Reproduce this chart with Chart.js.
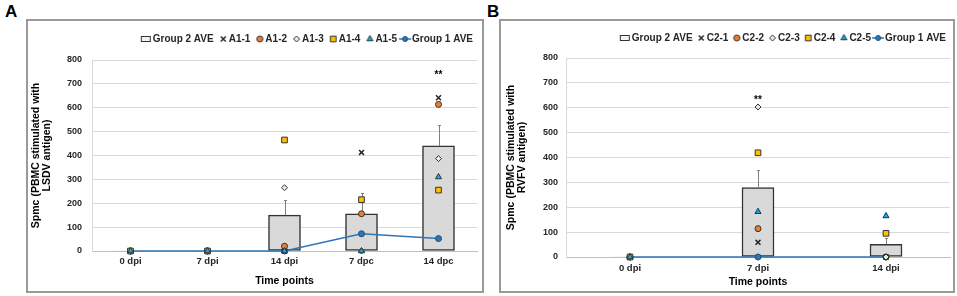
<!DOCTYPE html>
<html><head><meta charset="utf-8">
<script src="https://cdn.jsdelivr.net/npm/chart.js@4/dist/chart.umd.min.js"></script>
<style>
html,body{margin:0;padding:0;background:#fff;}
body{width:957px;height:296px;position:relative;overflow:hidden;font-family:"Liberation Sans",Arial,sans-serif;}
.frame{position:absolute;border:2px solid #9a9a9a;box-sizing:border-box;}
.lbl{position:absolute;font-weight:bold;font-size:17px;line-height:17px;color:#000;}
canvas{position:absolute;}
</style></head><body>
<div class="frame" style="left:26px;top:19px;width:458px;height:274px"></div>
<div class="frame" style="left:499px;top:19px;width:456px;height:274px"></div>
<div class="lbl" style="left:5px;top:3px">A</div>
<div class="lbl" style="left:487px;top:3px">B</div>
<canvas id="cA" width="454" height="270" style="left:28px;top:21px"></canvas>
<canvas id="cB" width="454" height="270" style="left:501px;top:21px"></canvas>
<script>
// ---------- DATA ----------
const yTickValues = [0, 100, 200, 300, 400, 500, 600, 700, 800];

const categoriesA = ['0 dpi', '7 dpi', '14 dpi', '7 dpc', '14 dpc'];
const group2AveA = [0, 0, 150, 156, 440];
const group2ErrA = [0, 0, 65, 88, 89];
const a1_1 = [0, 0, 0, 413, 642];
const a1_2 = [0, 0, 20, 156, 614];
const a1_3 = [0, 0, 265, 0, 387];
const a1_4 = [0, 0, 465, 215, 255];
const a1_5 = [0, 0, 0, 0, 310];
const group1AveA = [0, 0, 0, 72, 52];
const sigTextA = ['', '', '', '', '**'];
const sigValueA = [null, null, null, null, 748];
const memberLabelsA = ['A1-1', 'A1-2', 'A1-3', 'A1-4', 'A1-5'];
const yTitleA = ['Spmc (PBMC stimulated with', 'LSDV antigen)'];

const categoriesB = ['0 dpi', '7 dpi', '14 dpi'];
const group2AveB = [0, 279, 51];
const group2ErrB = [0, 71, 27];
const c2_1 = [0, 59, 0];
const c2_2 = [0, 114, 0];
const c2_3 = [0, 603, 0];
const c2_4 = [0, 419, 95];
const c2_5 = [0, 182, 165];
const group1AveB = [0, 0, 0];
const sigTextB = ['', '**', ''];
const sigValueB = [null, 643, null];
const memberLabelsB = ['C2-1', 'C2-2', 'C2-3', 'C2-4', 'C2-5'];
const yTitleB = ['Spmc (PBMC stimulated with', 'RVFV antigen)'];

// ---------- STYLE ----------
const FONT = '"Liberation Sans", Arial, Helvetica, sans-serif';
Chart.defaults.font.family = FONT;
const memberStyles = [
  {pointStyle: 'crossRot', radius: 3.5, bg: '#262626', border: '#262626', bw: 1.5},
  {pointStyle: 'circle', radius: 3, bg: '#ed7d31', border: '#333333', bw: 1},
  {pointStyle: 'rectRot', radius: 3, bg: '#e2f0d9', border: '#333333', bw: 1},
  {pointStyle: 'rect', radius: 4, bg: '#ffc000', border: '#333333', bw: 1},
  {pointStyle: 'triangle', radius: 3.5, bg: '#00b0f0', border: '#333333', bw: 1}
];

function drawMarker(ctx, st, x, y) {
  ctx.fillStyle = st.bg; ctx.strokeStyle = st.border; ctx.lineWidth = st.bw;
  ctx.beginPath();
  const r = st.radius;
  if (st.pointStyle === 'crossRot') {
    const s = r * Math.SQRT1_2;
    ctx.moveTo(x - s, y - s); ctx.lineTo(x + s, y + s);
    ctx.moveTo(x - s, y + s); ctx.lineTo(x + s, y - s);
    ctx.stroke(); return;
  } else if (st.pointStyle === 'circle') {
    ctx.arc(x, y, r, 0, Math.PI * 2);
  } else if (st.pointStyle === 'rectRot') {
    ctx.moveTo(x, y - r); ctx.lineTo(x + r, y); ctx.lineTo(x, y + r); ctx.lineTo(x - r, y); ctx.closePath();
  } else if (st.pointStyle === 'rect') {
    const s = r * Math.SQRT1_2; ctx.rect(x - s, y - s, 2 * s, 2 * s);
  } else if (st.pointStyle === 'triangle') {
    ctx.moveTo(x, y - r); ctx.lineTo(x + r * 0.866, y + r * 0.5); ctx.lineTo(x - r * 0.866, y + r * 0.5); ctx.closePath();
  }
  ctx.fill(); ctx.stroke();
}
function iconCanvas(w, h, fn) {
  const c = document.createElement('canvas'); c.width = w; c.height = h;
  fn(c.getContext('2d')); return c;
}
const boxIcon = iconCanvas(12, 8, ctx => {
  ctx.fillStyle = '#f2f2f2'; ctx.fillRect(1.5, 1.5, 9, 5);
  ctx.strokeStyle = '#333'; ctx.lineWidth = 1; ctx.strokeRect(1.5, 1.5, 9, 5);
});
const markerIcons = memberStyles.map(st => iconCanvas(12, 8, ctx => drawMarker(ctx, st, 7.5, 4)));
const lineIcon = iconCanvas(16, 8, ctx => {
  ctx.strokeStyle = '#2e75b6'; ctx.lineWidth = 1.5;
  ctx.beginPath(); ctx.moveTo(2, 4); ctx.lineTo(14, 4); ctx.stroke();
  drawMarker(ctx, {pointStyle: 'circle', radius: 2.5, bg: '#2e75b6', border: '#1f4e79', bw: 1}, 8, 4);
});

const errPlugin = {
  id: 'errbars',
  afterDatasetDraw(chart, args, opts) {
    if (args.index !== 0) return;
    const ys = chart.scales.y, ctx = chart.ctx;
    ctx.save();
    ctx.strokeStyle = '#7f7f7f'; ctx.lineWidth = 1;
    args.meta.data.forEach((el, i) => {
      const v = chart.data.datasets[0].data[i], e = opts.values[i];
      if (!e) return;
      const x = Math.round(el.x) + 0.5;
      const y0 = ys.getPixelForValue(v), y1 = Math.round(ys.getPixelForValue(v + e)) + 0.5;
      ctx.beginPath(); ctx.moveTo(x, y0); ctx.lineTo(x, y1);
      ctx.moveTo(x - 1.5, y1); ctx.lineTo(x + 1.5, y1); ctx.stroke();
    });
    ctx.restore();
  }
};
const sigPlugin = {
  id: 'sig',
  afterDatasetsDraw(chart, args, opts) {
    const ctx = chart.ctx, xs = chart.scales.x, ys = chart.scales.y;
    ctx.save();
    ctx.fillStyle = '#000'; ctx.font = 'bold 10px ' + FONT;
    ctx.textAlign = 'center'; ctx.textBaseline = 'alphabetic';
    opts.texts.forEach((t, i) => {
      if (!t || opts.values[i] == null) return;
      ctx.fillText(t, xs.getPixelForValue(i), ys.getPixelForValue(opts.values[i]) + 5.5);
    });
    ctx.restore();
  }
};

function buildChart(id, p) {
  const datasets = [];
  const icons = [];
  datasets.push({type: 'bar', label: 'Group 2 AVE', data: p.ave, backgroundColor: '#d9d9d9', borderColor: '#333333',
    borderWidth: c => (c.raw ? 1.5 : 0), borderSkipped: false, barThickness: 32, order: 10});
  icons.push(boxIcon);
  p.members.forEach((m, i) => {
    const st = memberStyles[i];
    datasets.push({type: 'line', label: p.memberLabels[i], data: m, showLine: false, pointStyle: st.pointStyle,
      pointRadius: st.radius, pointHoverRadius: st.radius, pointBackgroundColor: st.bg, pointBorderColor: st.border,
      pointBorderWidth: st.bw, clip: false, order: 5 - i});
    icons.push(markerIcons[i]);
  });
  datasets.push({type: 'line', label: 'Group 1 AVE', data: p.group1, borderColor: '#2e75b6', borderWidth: 1.5,
    pointStyle: 'circle', pointRadius: 3, pointBackgroundColor: '#2e75b6', pointBorderColor: '#1f4e79',
    pointBorderWidth: 1, clip: false, order: 8, tension: 0});
  icons.push(lineIcon);

  return new Chart(document.getElementById(id), {
    type: 'bar',
    data: {labels: p.categories, datasets},
    plugins: [errPlugin, sigPlugin],
    options: {
      responsive: false, animation: false, devicePixelRatio: 1, events: [],
      layout: {padding: {top: p.padTop, right: p.padRight, left: 0, bottom: 0}},
      plugins: {
        tooltip: {enabled: false},
        errbars: {values: p.err},
        sig: {texts: p.sigText, values: p.sigValue},
        title: {display: true, text: '', weight: 500, font: {size: 1, lineHeight: 1}, padding: {top: 0, bottom: p.spacer}},
        legend: {
          position: 'top', align: 'end',
          labels: {
            usePointStyle: true, boxWidth: 4, padding: p.legendPad, color: '#262626',
            font: {family: FONT, size: 10, weight: 'bold'},
            generateLabels: chart => chart.data.datasets.map((ds, i) => ({
              text: ds.label, pointStyle: icons[i], fillStyle: '#000', strokeStyle: '#000', lineWidth: 0,
              hidden: false, datasetIndex: i, fontColor: '#262626'
            }))
          }
        }
      },
      scales: {
        x: {
          grid: {display: false, drawTicks: false},
          border: {display: true, color: '#bfbfbf', width: 1},
          ticks: {font: {family: FONT, size: 9.5, weight: 'bold'}, color: '#262626', padding: p.xTickPad, maxRotation: 0, autoSkip: false},
          title: {display: true, text: 'Time points', color: '#000', font: {family: FONT, size: 10.5, weight: 'bold'}, padding: {top: 0, bottom: p.xTitlePad}},
          afterFit: s => { s.height = p.xHeight; }
        },
        y: {
          min: 0, max: 800,
          afterBuildTicks: s => { s.ticks = yTickValues.map(v => ({value: v})); },
          grid: {color: '#d9d9d9', drawTicks: false},
          border: {display: true, color: '#d9d9d9'},
          ticks: {font: {family: FONT, size: 9, weight: 'bold'}, color: '#262626', padding: p.yTickPad},
          title: {display: true, text: p.yTitle, color: '#000', font: {family: FONT, size: 10.5, weight: 'bold', lineHeight: 1.1}, padding: {top: p.yTitlePad, bottom: 0}},
          afterFit: s => { s.width = p.yWidth; }
        }
      }
    }
  });
}

buildChart('cA', {
  categories: categoriesA, ave: group2AveA, err: group2ErrA,
  members: [a1_1, a1_2, a1_3, a1_4, a1_5], memberLabels: memberLabelsA, group1: group1AveA,
  sigText: sigTextA, sigValue: sigValueA, yTitle: yTitleA,
  padTop: 7, padRight: 3, legendPad: 6, spacer: 5,
  xHeight: 40, xTickPad: 5, xTitlePad: 4, yWidth: 64, yTickPad: 10, yTitlePad: 2
});
buildChart('cB', {
  categories: categoriesB, ave: group2AveB, err: group2ErrB,
  members: [c2_1, c2_2, c2_3, c2_4, c2_5], memberLabels: memberLabelsB, group1: group1AveB,
  sigText: sigTextB, sigValue: sigValueB, yTitle: yTitleB,
  padTop: 7, padRight: 4, legendPad: 5, spacer: 4,
  xHeight: 34, xTickPad: 6, xTitlePad: 3, yWidth: 65, yTickPad: 8, yTitlePad: 4
});
</script>
</body></html>
